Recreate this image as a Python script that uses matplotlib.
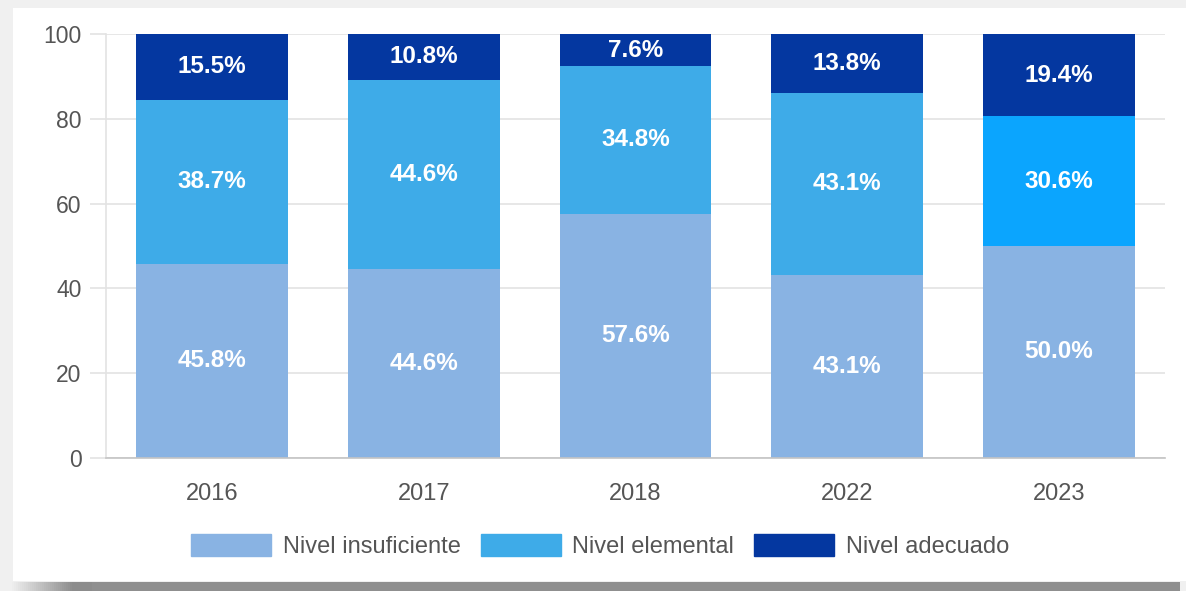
import matplotlib.pyplot as plt
import matplotlib.patches as mpatches
import numpy as np

plt.rcParams['font.family'] = ['Liberation Sans', 'DejaVu Sans']

years = ['2016', '2017', '2018', '2022', '2023']
insuficiente = [45.8, 44.6, 57.6, 43.1, 50.0]
elemental = [38.7, 44.6, 34.8, 43.1, 30.6]
adecuado = [15.5, 10.8, 7.6, 13.8, 19.4]
series_names = ['Nivel insuficiente', 'Nivel elemental', 'Nivel adecuado']

c_ins = '#89b3e3'
c_ele = '#3eabe8'
c_ele_2023 = '#0ba5fe'
c_ade = '#0437a0'

W, H = 1186, 591
fig = plt.figure(figsize=(W / 100, H / 100), dpi=100, facecolor='#f0f0f0')

# card background and shadow
fig.patches.append(mpatches.Rectangle((13 / W, 10 / H), 1 - 13 / W, 1 - 18 / H,
                                      transform=fig.transFigure, facecolor='white',
                                      edgecolor='none', zorder=0))
for i in range(40):
    g = 0.93 - 0.38 * min(i / 30, 1)
    fig.patches.append(mpatches.Rectangle(((12 + i * 2) / W, 0), 2 / W, 9 / H,
                                          transform=fig.transFigure,
                                          facecolor=(g, g, g), edgecolor='none', zorder=0))
fig.patches.append(mpatches.Rectangle((92 / W, 0), (1180 - 92) / W, 9 / H,
                                      transform=fig.transFigure, facecolor='#8f8f8f',
                                      edgecolor='none', zorder=0))

ax = fig.add_axes([106 / W, (H - 458) / H, (1165 - 106) / W, (458 - 34) / H])
ax.set_zorder(2)
ax.set_facecolor('none')

x = np.arange(len(years))
bw = 0.717
ele_colors = [c_ele] * (len(years) - 1) + [c_ele_2023]
bottom2 = np.array(insuficiente)
bottom3 = bottom2 + np.array(elemental)

b1 = ax.bar(x, insuficiente, bw, color=c_ins, zorder=3)
b2 = ax.bar(x, elemental, bw, bottom=bottom2, color=ele_colors, zorder=3)
b3 = ax.bar(x, adecuado, bw, bottom=bottom3, color=c_ade, zorder=3)

for vals, bots in [(insuficiente, np.zeros(len(years))),
                   (elemental, bottom2), (adecuado, bottom3)]:
    for xi, v, b in zip(x, vals, bots):
        ax.text(xi, b + v / 2, f'{v:.1f}%', ha='center', va='center', color='white',
                fontsize=17.5, fontweight='bold', zorder=4)

ax.set_xlim(-0.5, len(years) - 0.5)
ax.set_ylim(0, 100)
ax.set_yticks([0, 20, 40, 60, 80, 100])
ax.set_xticks(x)
ax.set_xticklabels(years)
ax.grid(axis='y', color='#e3e3e3', linewidth=1.2, zorder=0)
ax.tick_params(axis='y', length=11.5, width=1.2, color='#e3e3e3', pad=6,
               labelsize=16.5, labelcolor='#555555')
ax.tick_params(axis='x', length=0, pad=18, labelsize=17, labelcolor='#555555')
for s in ['top', 'right']:
    ax.spines[s].set_visible(False)
ax.spines['left'].set_color('#e3e3e3')
ax.spines['left'].set_linewidth(1.2)
ax.spines['bottom'].set_color('#c4c4c4')
ax.spines['bottom'].set_linewidth(1.2)
ax.spines['bottom'].set_zorder(5)

handles = [mpatches.Patch(color=c) for c in [c_ins, c_ele, c_ade]]
leg = fig.legend(handles, series_names, loc='center', bbox_to_anchor=(0.506, 0.076),
                 ncol=3, frameon=False, fontsize=17, handlelength=3.39,
                 handleheight=1.02, handletextpad=0.5, columnspacing=0.85)
for t in leg.get_texts():
    t.set_color('#555555')

fig.savefig('out.png', dpi=100, facecolor=fig.get_facecolor())
